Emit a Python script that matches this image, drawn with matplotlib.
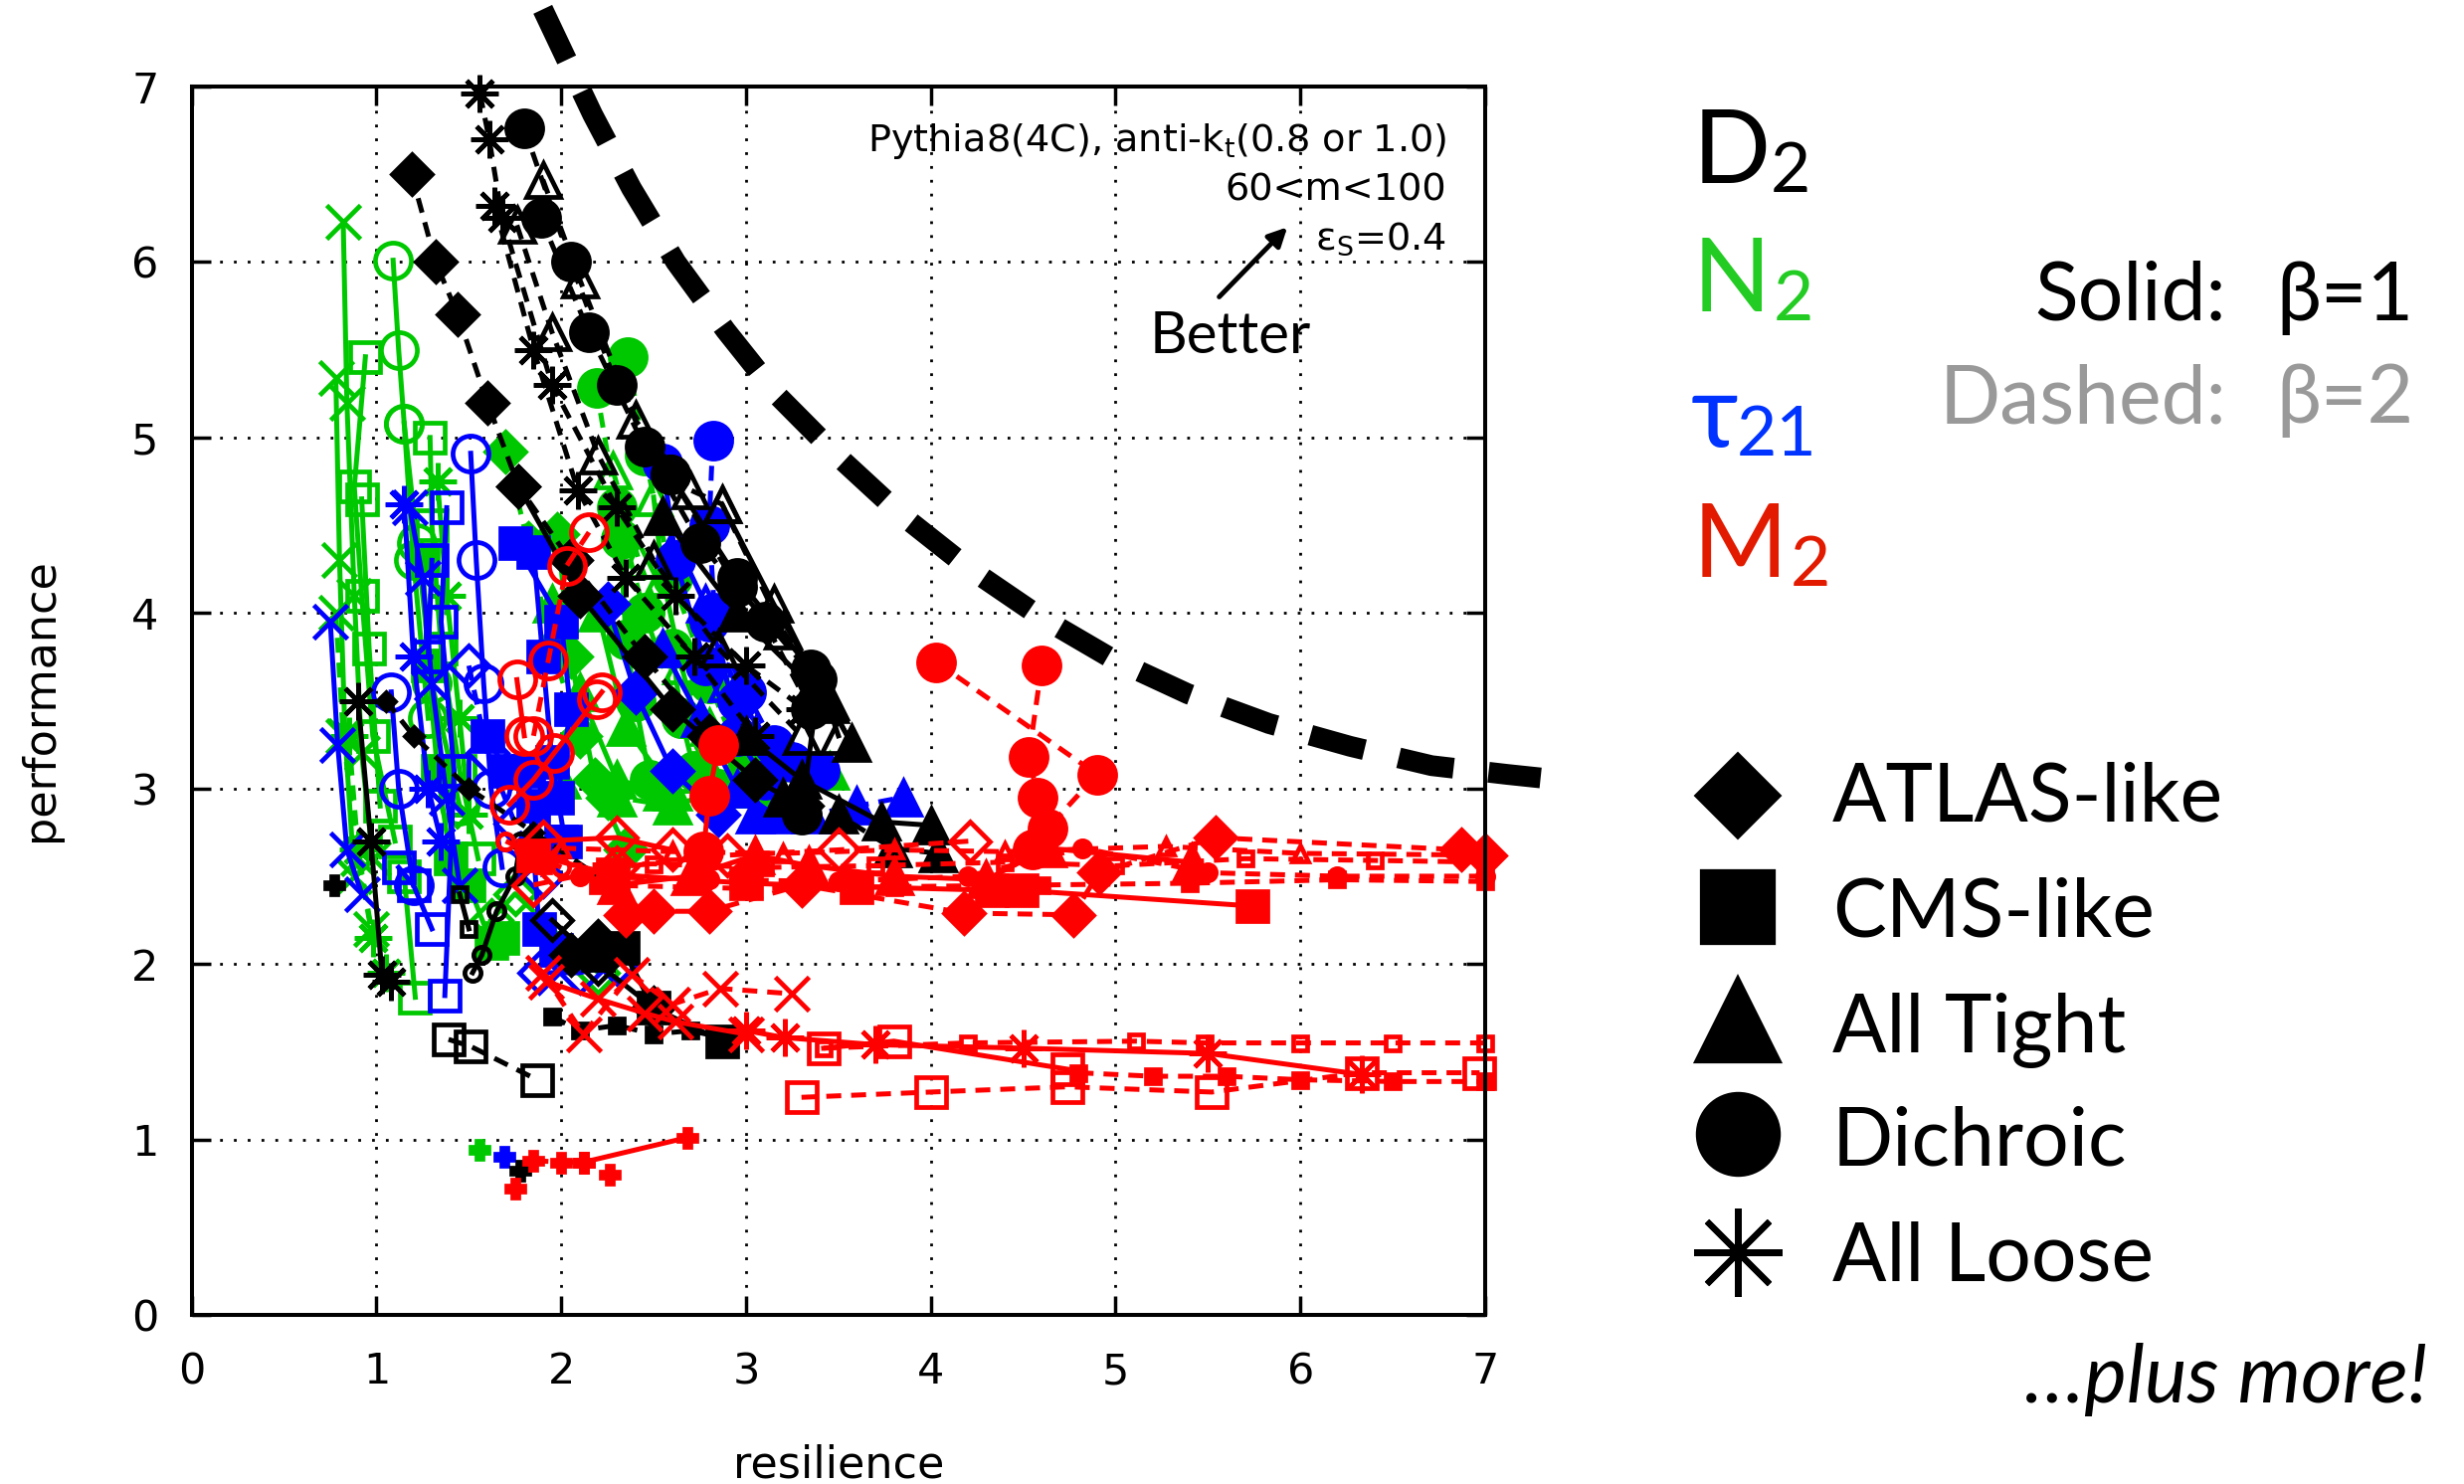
import matplotlib
matplotlib.use("Agg")
import matplotlib.pyplot as plt

W, H = 2477, 1492

BLACK = "#000000"
GREEN = "#00c800"
BLUE = "#0000ff"
RED = "#ff0000"

SANS = ["Lato", "Noto Sans", "DejaVu Sans"]

# thick guide line ("better" direction)
guide_x = [1.90, 2.17, 2.38, 2.62, 2.89, 3.17, 3.50, 3.84, 4.20, 4.59, 4.98, 5.39, 5.83, 6.27, 6.71, 7.12, 7.30]
guide_y = [7.44, 6.84, 6.42, 6.00, 5.61, 5.24, 4.89, 4.56, 4.26, 3.98, 3.74, 3.54, 3.37, 3.24, 3.13, 3.08, 3.06]

# each entry: (groomer, beta, variant, resilience, performance)
# variant: f = filled, o = open, fs/os = small filled/open
d2_series = [
    ("loose", 2, "f", [1.56, 1.61, 1.68, 1.95, 2.30, 2.62, 3.00, 3.32], [6.96, 6.70, 6.25, 5.30, 4.60, 4.10, 3.70, 3.45]),
    ("loose", 2, "f", [1.64, 1.85, 2.09, 2.35, 2.72, 3.05], [6.32, 5.50, 4.70, 4.20, 3.75, 3.30]),
    ("dichroic", 2, "f", [1.80, 2.05, 2.30, 2.59, 2.95, 3.38], [6.76, 6.00, 5.30, 4.79, 4.15, 3.62]),
    ("dichroic", 2, "f", [1.89, 2.15, 2.45, 2.75, 3.10, 3.35], [6.25, 5.60, 4.95, 4.40, 3.95, 3.45]),
    ("tight", 2, "o", [1.90, 2.10, 2.40, 2.70, 2.87, 3.20, 3.45], [6.47, 5.90, 5.10, 4.70, 4.62, 3.90, 3.50]),
    ("tight", 2, "o", [1.76, 1.95, 2.20, 2.50, 2.85, 3.30], [6.21, 5.60, 4.90, 4.30, 3.80, 3.30]),
    ("atlas", 2, "f", [1.19, 1.32, 1.44, 1.60, 1.77, 2.05, 2.45, 2.80], [6.50, 6.00, 5.70, 5.20, 4.72, 4.30, 3.75, 3.30]),
    ("atlas", 2, "fs", [1.05, 1.20, 1.50, 1.85, 2.20], [3.50, 3.30, 3.00, 2.75, 2.50]),
    ("dichroic", 1, "f", [2.59, 2.95, 3.35, 3.38, 3.30], [4.79, 4.20, 3.68, 3.50, 2.85]),
    ("tight", 1, "f", [2.55, 2.95, 3.45, 3.57], [4.55, 4.00, 3.48, 3.26]),
    ("tight", 1, "o", [2.87, 3.15, 3.42, 3.50], [4.62, 4.05, 3.55, 3.30]),
    ("atlas", 1, "f", [1.77, 2.10, 2.60, 3.05, 3.30], [4.72, 4.10, 3.45, 3.05, 2.90]),
    ("tight", 1, "f", [3.00, 3.30, 3.73, 4.00], [3.30, 3.05, 2.81, 2.79]),
    ("tight", 2, "f", [3.20, 3.50, 3.79, 4.04], [2.95, 2.85, 2.66, 2.63]),
    ("loose", 1, "f", [0.90, 0.97, 1.03, 1.08], [3.50, 2.70, 1.94, 1.90]),
    ("cms", 1, "f", [2.20, 2.33, 2.50, 2.87], [2.05, 2.09, 1.75, 1.56]),
    ("cms", 2, "fs", [1.95, 2.10, 2.30, 2.50, 2.70, 2.87], [1.70, 1.62, 1.65, 1.60, 1.62, 1.58]),
    ("cms", 2, "o", [1.39, 1.51, 1.87], [1.57, 1.53, 1.34]),
    ("dichroic", 1, "os", [1.52, 1.57, 1.65, 1.75, 1.78], [1.95, 2.05, 2.30, 2.50, 2.70]),
    ("atlas", 1, "o", [1.95, 2.20, 2.50], [2.25, 2.00, 1.75]),
    ("cms", 1, "os", [1.45, 1.50], [2.40, 2.20]),
    ("atlas", 1, "f", [2.05, 2.20], [2.05, 2.13]),
    ("prune", 1, "f", [0.77], [2.45]),
    ("prune", 1, "f", [1.78], [0.82]),
]

n2_series = [
    ("trim", 1, "f", [0.82, 0.84, 0.88, 0.92, 0.98], [6.23, 5.20, 4.10, 3.20, 2.60]),
    ("trim", 1, "f", [0.78, 0.80, 0.83, 0.88], [5.34, 4.30, 3.30, 2.50]),
    ("dichroic", 1, "o", [1.09, 1.12, 1.15, 1.20, 1.28], [6.01, 5.50, 5.08, 4.30, 3.40]),
    ("cms", 1, "o", [0.94, 0.88, 0.92, 0.98, 1.10], [5.46, 4.72, 4.10, 3.30, 2.70]),
    ("cms", 1, "o", [0.92, 0.96, 1.02], [4.65, 3.80, 2.90]),
    ("dichroic", 1, "o", [1.15, 1.22, 1.30, 1.45], [5.08, 4.40, 3.60, 2.90]),
    ("cms", 1, "o", [1.29, 1.30, 1.35, 1.45, 1.55], [5.00, 4.50, 3.80, 3.10, 2.60]),
    ("loose", 1, "f", [1.33, 1.38, 1.45, 1.50], [4.75, 4.10, 3.40, 2.85]),
    ("cms", 1, "f", [1.25, 1.28, 1.33, 1.40], [4.30, 3.70, 3.10, 2.60]),
    ("dichroic", 2, "f", [2.36, 2.45, 2.60, 2.80, 3.00], [5.46, 4.90, 4.20, 3.60, 3.10]),
    ("dichroic", 2, "f", [2.19, 2.30, 2.45, 2.65, 2.85], [5.28, 4.60, 4.00, 3.40, 3.00]),
    ("atlas", 2, "f", [1.70, 1.82, 1.95, 2.10, 2.25], [4.92, 4.40, 3.80, 3.30, 2.95]),
    ("tight", 2, "o", [2.28, 2.42, 2.60, 2.80, 3.00], [4.81, 4.30, 3.80, 3.35, 3.00]),
    ("tight", 1, "o", [2.50, 2.55, 2.65, 2.80], [4.66, 4.20, 3.70, 3.10]),
    ("tight", 1, "f", [1.95, 2.10, 2.30, 2.55], [4.05, 3.55, 3.05, 2.98]),
    ("tight", 1, "f", [2.20, 2.35, 2.60, 3.00, 3.45], [4.00, 3.35, 2.98, 3.00, 3.10]),
    ("atlas", 1, "f", [1.98, 2.05, 2.18, 2.35], [4.45, 3.75, 3.05, 2.65]),
    ("dichroic", 1, "f", [2.32, 2.35, 2.40, 2.48], [4.42, 3.85, 3.50, 3.05]),
    ("dichroic", 1, "f", [2.60, 2.65, 2.72], [3.80, 3.40, 3.10]),
    ("tight", 2, "f", [2.00, 2.30, 2.60, 2.90, 3.10], [3.05, 2.95, 2.90, 3.00, 2.95]),
    ("cms", 1, "f", [1.50, 1.62, 1.68], [2.45, 2.12, 2.15]),
    ("cms", 1, "o", [1.15, 1.21], [2.50, 1.81]),
    ("atlas", 1, "o", [1.62, 1.75, 2.20], [2.25, 2.40, 1.95]),
    ("trim", 2, "f", [0.78, 0.82, 0.90, 0.97], [4.00, 3.30, 2.60, 2.20]),
    ("loose", 2, "f", [0.85, 0.90, 0.98, 1.05], [3.30, 2.65, 2.15, 1.95]),
    ("prune", 1, "f", [1.56], [0.94]),
]

tau21_series = [
    ("dichroic", 2, "f", [2.82, 2.80, 2.83, 2.95, 3.25], [4.98, 4.50, 4.00, 3.50, 3.15]),
    ("dichroic", 1, "f", [2.55, 2.62, 2.78, 2.95, 3.10], [4.85, 4.30, 3.70, 3.30, 3.05]),
    ("dichroic", 1, "o", [1.51, 1.54, 1.58, 1.62, 1.68], [4.91, 4.30, 3.60, 3.00, 2.55]),
    ("dichroic", 1, "o", [1.08, 1.12, 1.20], [3.55, 3.00, 2.45]),
    ("cms", 1, "f", [1.85, 1.90, 1.95, 2.02], [4.35, 3.75, 3.15, 2.70]),
    ("cms", 1, "f", [1.75, 2.00, 2.05, 1.98], [4.40, 3.95, 3.45, 2.95]),
    ("trim", 1, "f", [1.18, 1.25, 1.30, 1.38, 1.45], [4.60, 4.20, 3.60, 2.95, 2.45]),
    ("trim", 1, "f", [0.75, 0.79, 0.84, 0.92], [3.95, 3.25, 2.65, 2.40]),
    ("loose", 1, "f", [1.15, 1.20, 1.28, 1.35], [4.62, 3.75, 3.00, 2.70]),
    ("cms", 1, "o", [1.38, 1.35, 1.42, 1.37], [4.60, 3.95, 3.10, 1.82]),
    ("cms", 1, "o", [1.30, 1.28], [4.30, 3.75]),
    ("tight", 2, "f", [3.05, 3.35, 3.60, 3.85], [2.85, 2.85, 2.90, 2.95]),
    ("tight", 1, "o", [2.62, 2.78, 2.90, 3.05], [4.40, 4.05, 3.60, 3.30]),
    ("tight", 1, "f", [2.55, 2.75, 2.95, 3.15], [3.80, 3.40, 3.00, 2.85]),
    ("atlas", 1, "f", [2.25, 2.40, 2.60, 2.85], [4.05, 3.55, 3.10, 2.85]),
    ("cms", 1, "f", [1.82, 1.88, 1.97], [3.10, 2.20, 2.08]),
    ("atlas", 1, "o", [1.88, 2.10, 2.30], [1.95, 1.95, 2.00]),
    ("cms", 1, "o", [1.12, 1.20, 1.30], [2.55, 2.45, 2.20]),
    ("dichroic", 2, "f", [2.80, 3.00, 3.15, 3.40], [3.95, 3.55, 3.25, 3.10]),
    ("atlas", 2, "o", [1.50, 1.60, 1.75, 1.90], [3.70, 3.20, 2.80, 2.50]),
    ("cms", 1, "f", [1.60, 1.70, 1.85, 2.00], [3.30, 3.10, 2.90, 2.70]),
    ("prune", 1, "f", [1.69], [0.90]),
]

m2_series = [
    ("dichroic", 2, "f", [4.03, 4.90, 4.63, 4.55], [3.72, 3.08, 2.77, 2.65]),
    ("dichroic", 2, "f", [4.60, 4.53, 4.58], [3.70, 3.18, 2.95]),
    ("cms", 1, "f", [1.85, 2.28, 3.00, 3.60, 4.33, 4.49, 5.74], [2.62, 2.51, 2.46, 2.44, 2.42, 2.42, 2.33]),
    ("tight", 1, "f", [2.30, 2.70, 3.05, 3.34, 3.80, 4.30, 4.63, 5.41], [2.45, 2.50, 2.62, 2.56, 2.50, 2.48, 2.66, 2.58]),
    ("atlas", 2, "f", [2.35, 2.50, 2.80, 3.30, 4.18, 4.77, 4.91, 5.54, 6.87, 7.00], [2.28, 2.30, 2.30, 2.45, 2.29, 2.28, 2.52, 2.72, 2.65, 2.62]),
    ("tight", 2, "os", [2.00, 2.60, 3.20, 3.80, 4.40, 5.27, 6.00, 7.00], [2.66, 2.64, 2.63, 2.65, 2.64, 2.67, 2.63, 2.62]),
    ("cms", 2, "os", [1.90, 2.50, 3.10, 3.70, 4.40, 5.00, 5.70, 6.40, 7.00], [2.56, 2.57, 2.55, 2.56, 2.58, 2.56, 2.60, 2.59, 2.58]),
    ("dichroic", 2, "fs", [2.10, 2.80, 3.50, 4.20, 4.82, 5.50, 6.20, 7.00], [2.50, 2.48, 2.47, 2.50, 2.66, 2.52, 2.50, 2.50]),
    ("cms", 2, "fs", [2.20, 3.00, 3.80, 4.60, 5.40, 6.20, 7.00], [2.45, 2.43, 2.44, 2.45, 2.46, 2.48, 2.47]),
    ("atlas", 2, "o", [1.85, 2.30, 2.90, 3.50, 4.21], [2.45, 2.55, 2.62, 2.65, 2.70]),
    ("atlas", 1, "o", [1.90, 2.30, 2.60], [2.70, 2.72, 2.65]),
    ("trim", 2, "f", [1.90, 2.12, 2.38, 2.60, 2.86, 3.25], [1.95, 1.60, 1.94, 1.77, 1.86, 1.83]),
    ("trim", 1, "f", [1.92, 2.20, 2.45, 2.62, 3.00], [1.90, 1.80, 1.72, 1.67, 1.60]),
    ("loose", 1, "f", [3.00, 3.21, 3.70, 4.50, 5.50, 6.33], [1.62, 1.58, 1.54, 1.52, 1.49, 1.37]),
    ("cms", 1, "o", [3.42, 3.80, 4.74], [1.52, 1.56, 1.40]),
    ("cms", 2, "o", [3.30, 4.00, 4.74, 5.52, 6.33, 6.97], [1.24, 1.27, 1.30, 1.27, 1.38, 1.38]),
    ("cms", 2, "os", [3.42, 4.20, 5.11, 5.48, 6.00, 6.50, 7.00], [1.52, 1.55, 1.56, 1.55, 1.55, 1.55, 1.55]),
    ("cms", 2, "fs", [4.80, 5.20, 5.60, 6.00, 6.50, 7.00], [1.38, 1.36, 1.36, 1.34, 1.33, 1.33]),
    ("dichroic", 1, "o", [1.72, 1.85, 1.96, 2.19, 2.22], [2.91, 3.05, 3.20, 3.51, 3.55]),
    ("dichroic", 2, "o", [2.15, 2.03, 1.93, 1.85], [4.46, 4.27, 3.73, 3.30]),
    ("dichroic", 1, "o", [1.76, 1.80], [3.62, 3.30]),
    ("dichroic", 1, "f", [2.85, 2.80, 2.77], [3.25, 2.96, 2.64]),
    ("dichroic", 2, "os", [1.70, 1.80, 1.90, 2.00], [2.70, 2.65, 2.60, 2.55]),
    ("prune", 1, "f", [2.12, 2.68], [0.87, 1.01]),
    ("prune", 2, "f", [1.85, 2.00, 2.12], [0.88, 0.87, 0.87]),
    ("prune", 1, "f", [2.26], [0.80]),
    ("prune", 1, "f", [1.75], [0.72]),
]

MARKERS = {
    "atlas": ("D", 20),
    "cms": ("s", 22),
    "tight": ("^", 25),
    "dichroic": ("o", 26),
    "loose": ((8, 2, 0), 27),
    "trim": ("x", 25),
    "prune": ("P", 13),
}

fig = plt.figure(figsize=(W / 100, H / 100), dpi=100)
ax = fig.add_axes([192.7 / W, 1 - 1322 / H, 1300.3 / W, 1235 / H])


def draw(series, colour):
    for groom, beta, variant, xs, ys in series:
        marker, ms = MARKERS[groom]
        if variant.endswith("s"):
            ms = ms * 0.45
        face = "none" if variant.startswith("o") else colour
        ls = "-" if beta == 1 else (0, (3, 2))
        ax.plot(xs, ys, color=colour, lw=3.6, ls=ls, marker=marker, ms=ms,
                mfc=face, mec=colour, mew=3.4, clip_on=False)


draw(n2_series, GREEN)
draw(tau21_series, BLUE)
draw(d2_series, BLACK)
draw(m2_series, RED)

ax.plot(guide_x, guide_y, color=BLACK, lw=15, ls=(0, (2.7, 1.7)),
        dash_capstyle="butt", clip_on=False, zorder=5)

ax.set_xlim(0, 7)
ax.set_ylim(0, 7)
ax.set_xticks(range(8))
ax.set_yticks(range(8))
ax.grid(True, color=BLACK, ls=(0, (1, 4)), lw=2)
ax.set_axisbelow(True)
for sp in ax.spines.values():
    sp.set_linewidth(2.9)
ax.tick_params(direction="in", length=14, width=2.5, top=True, right=True,
               labelsize=31, colors=BLACK)
ax.tick_params(axis="x", pad=26)
ax.tick_params(axis="y", pad=24)

note = dict(ha="right", va="baseline", fontsize=27.5)
ax.text(6.79, 6.63, r"Pythia8(4C), anti-k$_\mathrm{t}$(0.8 or 1.0)", **note)
ax.text(6.79, 6.35, "60<m<100", **note)
ax.text(6.79, 6.07, r"ε$_\mathrm{S}$=0.4", **note)
ax.annotate("", xy=(5.94, 6.21), xytext=(5.55, 5.79),
            arrowprops=dict(arrowstyle="-|>", lw=3.5, color=BLACK, mutation_scale=28))
ax.text(5.62, 5.48, "Better", family=SANS, fontsize=42, ha="center", va="baseline")

# figure-level annotations in pixel coordinates
ov = fig.add_axes([0, 0, 1, 1], zorder=10)
ov.set_xlim(0, W)
ov.set_ylim(H, 0)
ov.axis("off")
ov.patch.set_alpha(0)

ov.text(843, 1486, "resilience", fontsize=32, ha="center", va="baseline")
ov.text(40, 704, "performance", fontsize=32, rotation=90, ha="center", va="center")

renderer = fig.canvas.get_renderer()
heads = [("D", "2", BLACK, 1702, 184, 0), ("N", "2", "#22cc22", 1702, 313, 2),
         ("τ", "21", "#0033ff", 1700, 449, -2), ("M", "2", "#e21a00", 1702, 580, 2)]
for main, sub, col, x0, base, gap in heads:
    t = ov.text(x0, base, main, family=SANS, fontsize=74, color=col, va="baseline")
    right = t.get_window_extent(renderer).x1
    xs = ov.transData.inverted().transform((right, 0))[0]
    ov.text(xs + gap, base + 9, sub, family=SANS, fontsize=50, color=col, va="baseline")

ov.text(2238, 322, "Solid:", family=SANS, fontsize=58, ha="right", va="baseline")
ov.text(2288, 322, "β=1", family=SANS, fontsize=58, ha="left", va="baseline")
ov.text(2238, 425, "Dashed:", family=SANS, fontsize=58, ha="right", va="baseline", color="#999999")
ov.text(2288, 425, "β=2", family=SANS, fontsize=58, ha="left", va="baseline", color="#999999")

legend_items = [("D", 41, "ATLAS-like", 800, 826), ("s", 51, "CMS-like", 912, 942),
                ("^", 57, "All Tight", 1026, 1058), ("o", 57, "Dichroic", 1140, 1172),
                ((8, 2, 0), 64, "All Loose", 1259, 1288)]
for marker, ms, label, ym, base in legend_items:
    ov.plot([1747], [ym], marker=marker, ms=ms, color=BLACK, mew=4.5)
    ov.text(1842, base, label, family=SANS, fontsize=58, va="baseline")
ov.text(2441, 1410, "…plus more!", family=SANS, fontsize=58, style="italic",
        ha="right", va="baseline")

fig.savefig("out.png", dpi=100)
